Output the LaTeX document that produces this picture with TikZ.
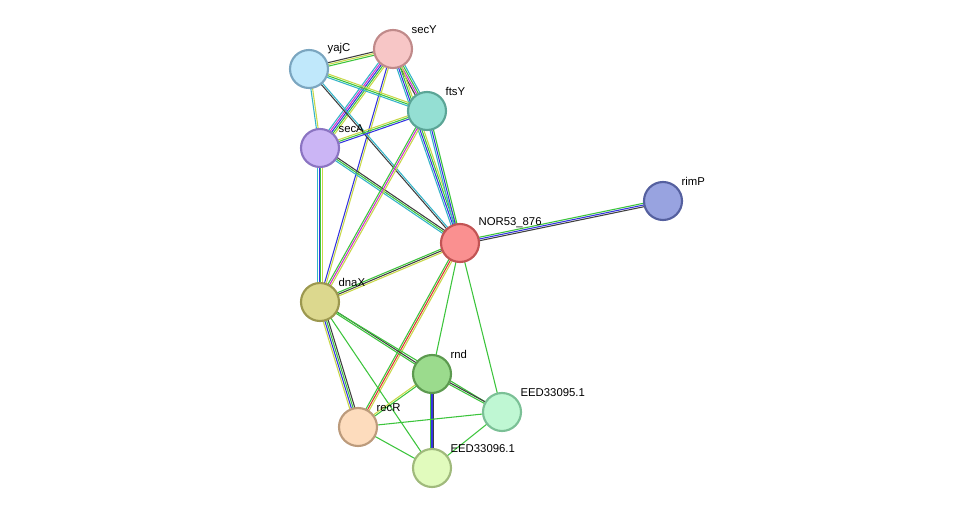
\documentclass[tikz,border=0pt]{standalone}
\usepackage{fontspec}
\setmainfont{Liberation Sans}
\usetikzlibrary{calc,backgrounds}
\definecolor{cgreen}{HTML}{3CC43C}
\definecolor{cyell}{HTML}{C8D848}
\definecolor{cblue}{HTML}{3434E0}
\definecolor{ccyan}{HTML}{34B4C8}
\definecolor{cmag}{HTML}{D030D0}
\definecolor{cred}{HTML}{E03434}
\definecolor{cblack}{HTML}{404040}
% node fill / border colours
\definecolor{secYf}{HTML}{F7C6C6}\definecolor{secYd}{HTML}{C08A8A}
\definecolor{yajCf}{HTML}{C0E8FB}\definecolor{yajCd}{HTML}{7BA6C0}
\definecolor{ftsYf}{HTML}{94DFD3}\definecolor{ftsYd}{HTML}{5BA596}
\definecolor{secAf}{HTML}{CBB5F5}\definecolor{secAd}{HTML}{8B74C2}
\definecolor{norf}{HTML}{FA9090}\definecolor{nord}{HTML}{C25454}
\definecolor{rimPf}{HTML}{98A3E0}\definecolor{rimPd}{HTML}{55609F}
\definecolor{dnaXf}{HTML}{DCD88E}\definecolor{dnaXd}{HTML}{9C984F}
\definecolor{rndf}{HTML}{9BDB8D}\definecolor{rndd}{HTML}{5C9A4F}
\definecolor{e95f}{HTML}{BFF7D3}\definecolor{e95d}{HTML}{7BC096}
\definecolor{recRf}{HTML}{FDDCBD}\definecolor{recRd}{HTML}{BC9B7C}
\definecolor{e96f}{HTML}{E1FBBD}\definecolor{e96d}{HTML}{A0BA7C}
\tikzset{
    x=0.75pt, y=-0.75pt,
    prot/.style={circle, minimum size=28.5pt, inner sep=0pt, line width=1.6pt, fill=#1f, draw=#1d}, % protein node
    lab/.style={font=\fontsize{8.5}{10}\selectfont, anchor=south west, inner sep=1pt},
}
% parallel coloured lines between two nodes
\newcommand{\link}[4]{%
  \foreach \c [count=\i] in {#4}{%
    \draw[\c, line width=0.8pt]
      ($(#1)!{(\i-(#3+1)/2)*1.3pt}!90:(#2)$) -- ($(#2)!{(\i-(#3+1)/2)*1.3pt}!-90:(#1)$);
  }}
\begin{document}
\begin{tikzpicture}
    \useasboundingbox (0,0) rectangle (976,514);
    \node[prot=secY] (secY) at (393,49) {};
    \node[prot=yajC] (yajC) at (309,69) {};
    \node[prot=ftsY] (ftsY) at (427,111) {};
    \node[prot=secA] (secA) at (320,148) {};
    \node[prot=nor] (nor) at (460,243) {};
    \node[prot=rimP] (rimP) at (663,201) {};
    \node[prot=dnaX] (dnaX) at (320,302) {};
    \node[prot=rnd] (rnd) at (432,374) {};
    \node[prot=e95] (e95) at (502,412) {};
    \node[prot=recR] (recR) at (358,427) {};
    \node[prot=e96] (e96) at (432,468) {};

    \node[lab] at (410,35) {secY};
    \node[lab] at (326,55) {yajC};
    \node[lab] at (444,97) {ftsY};
    \node[lab] at (337,134) {secA};
    \node[lab] at (477,229) {NOR53\_876};
    \node[lab] at (680,187) {rimP};
    \node[lab] at (337,288) {dnaX};
    \node[lab] at (449,360) {rnd};
    \node[lab] at (519,398) {EED33095.1};
    \node[lab] at (375,413) {recR};
    \node[lab] at (449,454) {EED33096.1};

    \begin{pgfonlayer}{background}
    \link{secY}{yajC}{3}{cblack,cyell,cgreen}
    \link{secY}{ftsY}{4}{cblack,cmag,cgreen,ccyan}
    \link{secY}{secA}{5}{ccyan,cmag,cblue,cgreen,cyell}
    \link{secY}{nor}{4}{ccyan,cblue,cgreen,cyell}
    \link{secY}{dnaX}{2}{cblue,cyell}
    \link{yajC}{ftsY}{3}{ccyan,cgreen,cyell}
    \link{yajC}{secA}{2}{ccyan,cyell}
    \link{yajC}{nor}{2}{cblack,ccyan}
    \link{secA}{ftsY}{3}{cblue,cgreen,cyell}
    \link{secA}{nor}{3}{ccyan,cgreen,cblack}
    \link{secA}{dnaX}{4}{ccyan,cblue,cgreen,cyell}
    \link{ftsY}{nor}{3}{ccyan,cblue,cgreen}
    \link{ftsY}{dnaX}{3}{cgreen,cmag,cyell}
    \link{nor}{rimP}{3}{cblack,cblue,cgreen}
    \link{nor}{dnaX}{3}{cgreen,cblack,cyell}
    \link{nor}{recR}{3}{cgreen,cred,cyell}
    \link{nor}{rnd}{1}{cgreen}
    \link{nor}{e95}{1}{cgreen}
    \link{dnaX}{rnd}{2}{cgreen,cblack}
    \link{dnaX}{e95}{1}{cgreen}
    \link{dnaX}{recR}{4}{cyell,cblue,cgreen,cblack}
    \link{dnaX}{e96}{1}{cgreen}
    \link{rnd}{e95}{2}{cgreen,cblack}
    \link{rnd}{recR}{2}{cyell,cgreen}
    \link{rnd}{e96}{3}{cgreen,cblue,cblack}
    \link{recR}{e95}{1}{cgreen}
    \link{recR}{e96}{1}{cgreen}
    \link{e96}{e95}{1}{cgreen}
    \end{pgfonlayer}
\end{tikzpicture}
\end{document}
